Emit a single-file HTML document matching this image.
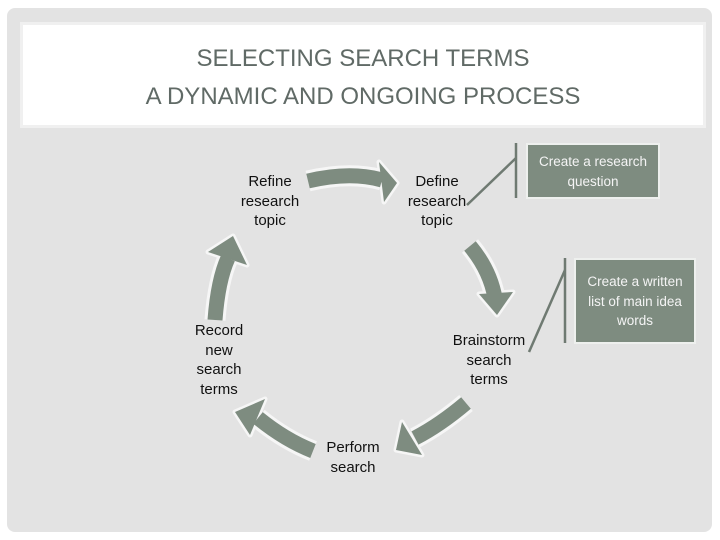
<!DOCTYPE html>
<html><head><style>
body{margin:0;width:720px;height:540px;background:#fff;overflow:hidden;font-family:"Liberation Sans",sans-serif}
.panel{position:absolute;left:7px;top:8px;width:705px;height:524px;background:#e3e3e3;border-radius:8px}
.title{position:absolute;left:20px;top:22px;width:686px;height:106px;background:#fff;border:3px solid #f0f0f0;box-sizing:border-box;text-align:center;color:#606a66;font-size:24px;line-height:38px;padding-top:15px}
.t{position:absolute;text-align:center;font-size:15px;line-height:19.5px;color:#111}
.box{position:absolute;background:#7e8c80;border:2px solid #eef0ee;color:#f4f4f4;font-size:13.5px;line-height:19.5px;text-align:center;box-sizing:border-box}
</style></head><body>
<div class="panel"></div>
<div class="title">SELECTING SEARCH TERMS<br>A DYNAMIC AND ONGOING PROCESS</div>
<svg width="720" height="540" style="position:absolute;left:0;top:0">
<g fill="none" stroke="#f6f6f6" stroke-width="21">
<path d="M308,181 Q350,171 382,180"/><path d="M470,246 Q490,270 495,298"/><path d="M466,403 Q440,425 415,438"/><path d="M313,451 Q285,440 258,418"/><path d="M215,320 Q218,280 228,258"/>
</g>
<g fill="#f6f6f6" stroke="#f6f6f6" stroke-width="5" stroke-linejoin="round">
<polygon points="379,162 384,202 397,183"/><polygon points="479,294 513,292 497,315"/><polygon points="402,422 422,455 396,450"/><polygon points="265,399 250,435 235,412"/><polygon points="208,252 247,265 233,236"/>
</g>
<g fill="none" stroke="#7e8c80" stroke-width="15">
<path d="M308,181 Q350,171 382,180"/><path d="M470,246 Q490,270 495,298"/><path d="M466,403 Q440,425 415,438"/><path d="M313,451 Q285,440 258,418"/><path d="M215,320 Q218,280 228,258"/>
</g>
<g fill="#7e8c80">
<polygon points="379,162 384,202 397,183"/><polygon points="479,294 513,292 497,315"/><polygon points="402,422 422,455 396,450"/><polygon points="265,399 250,435 235,412"/><polygon points="208,252 247,265 233,236"/>
</g>
<g stroke="#6f7a72" stroke-width="2.5">
<line x1="467" y1="205" x2="516" y2="158"/><line x1="516" y1="143" x2="516" y2="198"/>
<line x1="529" y1="352" x2="565" y2="270"/><line x1="565" y1="258" x2="565" y2="343"/>
</g>
</svg>
<div class="t" style="left:225px;top:172px;width:90px">Refine<br>research<br>topic</div>
<div class="t" style="left:392px;top:172px;width:90px">Define<br>research<br>topic</div>
<div class="t" style="left:444px;top:331px;width:90px">Brainstorm<br>search<br>terms</div>
<div class="t" style="left:308px;top:438px;width:90px">Perform<br>search</div>
<div class="t" style="left:174px;top:321px;width:90px">Record<br>new<br>search<br>terms</div>
<div class="box" style="left:526px;top:143px;width:134px;height:56px;padding-top:7px">Create a research<br>question</div>
<div class="box" style="left:574px;top:258px;width:122px;height:86px;padding-top:12px">Create a written<br>list of main idea<br>words</div>
</body></html>
